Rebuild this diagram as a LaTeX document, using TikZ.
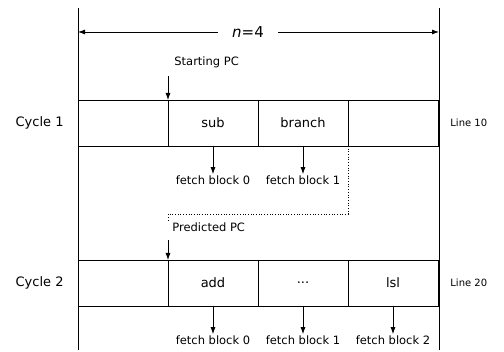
\documentclass[tikz,border=0pt]{standalone}
\usepackage{fontspec}
\setmainfont{DejaVu Sans}
\usetikzlibrary{arrows.meta}
\begin{document}
\begin{tikzpicture}[x=1pt,y=-1pt,
  line width=0.8pt,
  cell/.style={draw,minimum width=90pt,minimum height=46pt,inner sep=0pt,outer sep=0pt,font=\fontsize{13}{15}\selectfont},
  lab/.style={font=\fontsize{11.5}{13}\selectfont,inner sep=1pt},
  side/.style={font=\fontsize{13}{15}\selectfont,inner sep=1pt},
  lineno/.style={font=\fontsize{10}{12}\selectfont,inner sep=1pt},
  arr/.style={-{Latex[length=7pt,width=5pt]}}]
\useasboundingbox (0,0) rectangle (504,352);
% vertical bounding lines
\coordinate (lt) at (78,8); \coordinate (lb) at (78,350);
\coordinate (rt) at (439,8); \coordinate (rb) at (439,350);
\draw (lt) -- (lb);
\draw (rt) -- (rb);
% n=4
\node[font=\fontsize{15}{17}\selectfont,inner xsep=14pt,inner ysep=1pt] (n) at (248,32) {\textit{n}=4};
\coordinate (nl) at (78,32); \coordinate (nr) at (439,32);
\draw[arr] (n.west) -- (nl);
\draw[arr] (n.east) -- (nr);
% row 1
\node[cell,anchor=north west] (a1) at (78,100) {};
\node[cell,anchor=north west] (b1) at (168,100) {sub};
\node[cell,anchor=north west] (c1) at (258,100) {branch};
\node[cell,anchor=north west] (d1) at (348,100) {};
\node[side,anchor=east] (cy1) at (65,123) {Cycle 1};
\node[lineno,anchor=west] (l10) at (449,123) {Line 10};
\node[lab,anchor=west] (sp) at (173,62) {Starting PC};
\coordinate (spa) at (168,76);
\draw[arr] (spa) -- (b1.north west);
\node[lab] (f10) at (213,180) {fetch block 0};
\node[lab] (f11) at (303,180) {fetch block 1};
\draw[arr] (b1.south) -- (f10.north);
\draw[arr] (c1.south) -- (f11.north);
% dotted predicted path
\node[lab,anchor=west] (pp) at (171,227) {Predicted PC};
\coordinate (dp1) at (348,214); \coordinate (dp2) at (168,214); \coordinate (dp3) at (168,220);
\draw[dotted,line width=0.7pt] (d1.south west) -- (dp1) -- (dp2) -- (dp3);
% row 2
\node[cell,anchor=north west] (a2) at (78,260) {};
\node[cell,anchor=north west] (b2) at (168,260) {add};
\node[cell,anchor=north west] (c2) at (258,260) {...};
\node[cell,anchor=north west] (d2) at (348,260) {lsl};
\node[side,anchor=east] (cy2) at (65,283) {Cycle 2};
\node[lineno,anchor=west] (l20) at (449,283) {Line 20};
\coordinate (ppa) at (168,240);
\draw[arr] (ppa) -- (b2.north west);
\node[lab] (f20) at (213,340) {fetch block 0};
\node[lab] (f21) at (303,340) {fetch block 1};
\node[lab] (f22) at (393,340) {fetch block 2};
\draw[arr] (b2.south) -- (f20.north);
\draw[arr] (c2.south) -- (f21.north);
\draw[arr] (d2.south) -- (f22.north);
\end{tikzpicture}
\end{document}
